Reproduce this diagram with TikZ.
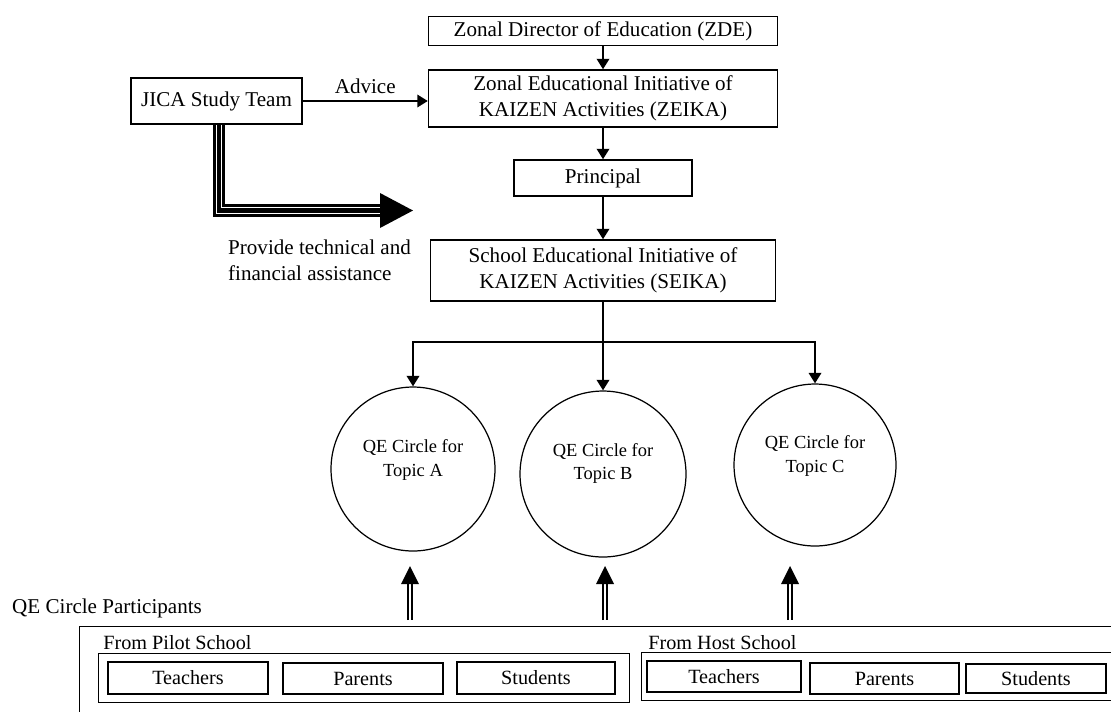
\documentclass[tikz,border=0pt]{standalone}
\usepackage{fontspec}
\setmainfont{Liberation Serif}
\usetikzlibrary{arrows.meta,calc}

\tikzset{
  box/.style={draw, line width=0.8pt, inner sep=0pt, align=center},
  qecircle/.style={draw, circle, line width=0.7pt, inner sep=0pt},
  circtext/.style={font=\fontsize{10.5}{13.5}\selectfont, align=center},
  arr/.style={line width=1.4pt, -{Triangle[width=7pt,length=6pt]}},
  tripleline/.style={line width=7pt, postaction={draw, white, line width=3.8pt}, postaction={draw, black, line width=2.3pt}},
  dblline/.style={double, double distance=1pt, line width=1.1pt},
  small/.style={font=\fontsize{11.5}{13.5}\selectfont}
}

\begin{document}
\begin{tikzpicture}[x=0.02cm, y=-0.02cm, font=\fontsize{12}{14.5}\selectfont]
\useasboundingbox (0,0) rectangle (1111,711);
\clip (0,0) rectangle (1111,711);

\node[box, minimum width=6.98cm, minimum height=0.58cm] (zde) at (603,31) {Zonal Director of Education (ZDE)};
\node[box, minimum width=6.98cm, minimum height=1.14cm] (zeika) at (603,98.5) {Zonal Educational Initiative of\\KAIZEN Activities (ZEIKA)};
\node[box, minimum width=3.42cm, minimum height=0.92cm] (jica) at (216.5,101) {JICA Study Team};
\node[box, minimum width=3.56cm, minimum height=0.72cm] (principal) at (603,178) {Principal};
\node[box, minimum width=6.9cm, minimum height=1.22cm] (seika) at (603,270.5) {School Educational Initiative of\\KAIZEN Activities (SEIKA)};

\draw[arr] (zde) -- (zeika);
\draw[arr] (zeika) -- (principal);
\draw[arr] (principal) -- (seika);
\draw[arr] (jica) -- (jica -| zeika.west) node[midway, above=0pt] (advice) {Advice};

\coordinate (bend) at (219,210.5);
\coordinate (aidtip) at (413,210.5);
\draw[tripleline] (jica.south -| bend) -- (bend) -- ($(aidtip)+(-32,0)$);
\fill (aidtip) -- ++(-33,-17.5) -- ++(0,35) -- cycle;
\node[anchor=west, align=left, font=\fontsize{12}{15}\selectfont] (aidtext) at (222,260) {Provide technical and\\financial assistance};

\node[qecircle, minimum size=3.28cm, label={[circtext, yshift=5pt]center:QE Circle for\\Topic A}] (circA) at (413,469) {};
\node[qecircle, minimum size=3.32cm, label={[circtext, yshift=6pt]center:QE Circle for\\Topic B}] (circB) at (603,474) {};
\node[qecircle, minimum size=3.24cm, label={[circtext, yshift=5pt]center:QE Circle for\\Topic C}] (circC) at (815,465) {};

\coordinate (split) at (603,342);
\draw[arr] (seika) -- (circB);
\draw[arr] (split) -| (circA);
\draw[arr] (split) -| (circC);

\foreach \x/\lbl in {410/A, 605/B, 790/C} {
  \coordinate (up\lbl) at (\x,620);
  \coordinate (tip\lbl) at (\x,566);
  \draw[dblline] (up\lbl) -- ($(tip\lbl)+(0,17)$);
  \fill (tip\lbl) -- ++(-9,18) -- ++(18,0) -- cycle;
}

\node[anchor=west] (partlabel) at (6,608) {QE Circle Participants};
\node[draw, line width=0.8pt, anchor=north west, minimum width=21.02cm, minimum height=2.08cm] (participants) at (79,626) {};

\node[anchor=west, small, inner sep=0pt] (pilotlabel) at (103,643) {From Pilot School};
\node[box, anchor=north west, minimum width=10.62cm, minimum height=0.98cm] (pilot) at (98,653) {};
\node[box, small, minimum width=3.2cm, minimum height=0.64cm] (pteach) at (188,678) {Teachers};
\node[box, small, minimum width=3.2cm, minimum height=0.62cm] (ppar) at (363,678.5) {Parents};
\node[box, small, minimum width=3.16cm, minimum height=0.64cm] (pstud) at (536,678) {Students};

\node[anchor=west, small, inner sep=0pt] (hostlabel) at (648,643) {From Host School};
\node[box, anchor=north west, minimum width=9.78cm, minimum height=0.96cm] (host) at (641,652) {};
\node[box, small, minimum width=3.08cm, minimum height=0.62cm] (hteach) at (724,676.5) {Teachers};
\node[box, small, minimum width=2.98cm, minimum height=0.62cm] (hpar) at (884.5,678.5) {Parents};
\node[box, small, minimum width=2.8cm, minimum height=0.58cm] (hstud) at (1036,678.5) {Students};
\end{tikzpicture}
\end{document}
